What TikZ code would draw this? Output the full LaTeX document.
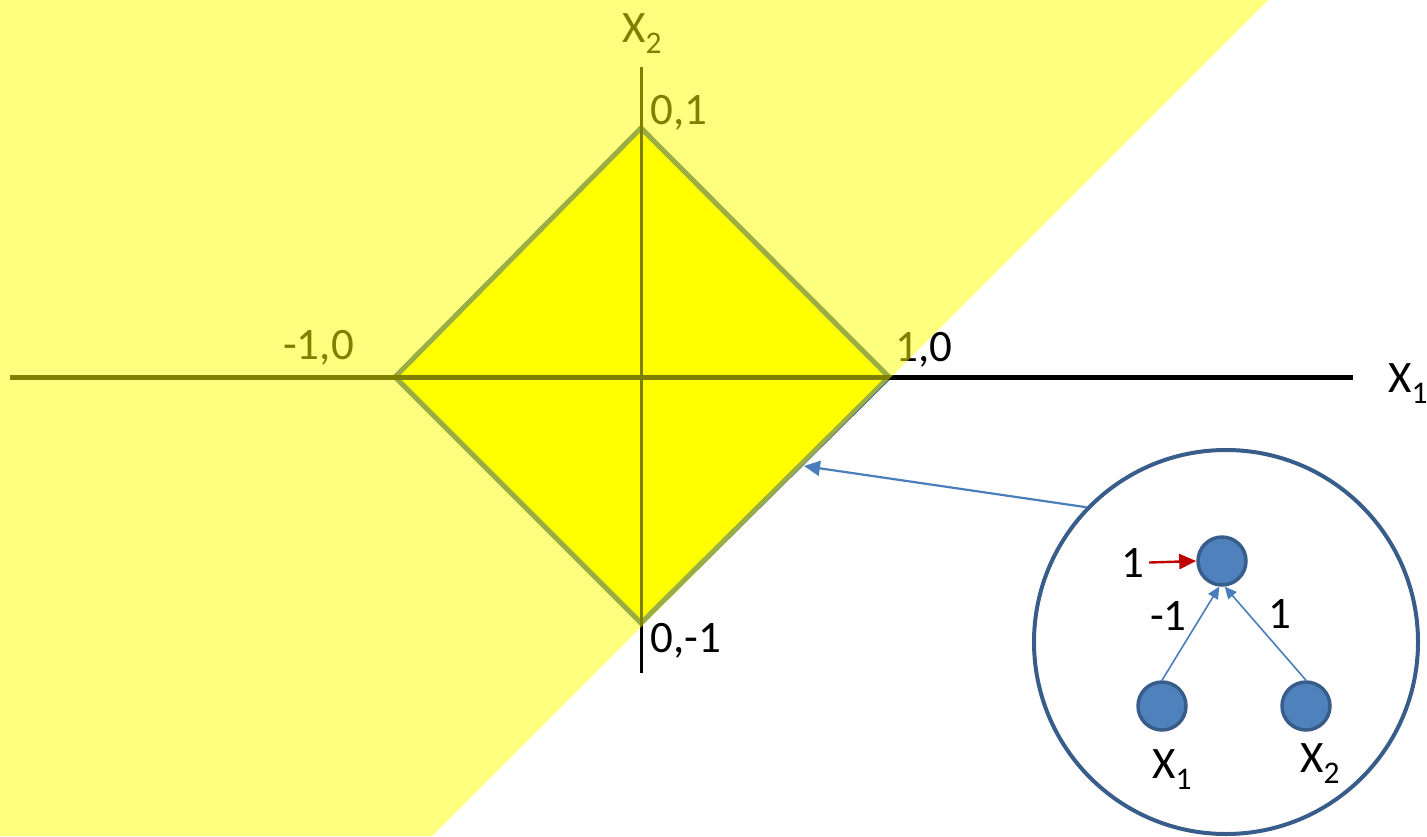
\documentclass[tikz,border=0pt]{standalone}
\usepackage{fontspec}
\setmainfont{Carlito}
\usetikzlibrary{arrows.meta}
\definecolor{dborder}{HTML}{385D8A}
\definecolor{nfill}{HTML}{4F81BD}
\definecolor{lineblue}{HTML}{4A7EBB}
\definecolor{darkred}{HTML}{C00000}
\definecolor{yel}{RGB}{255,255,0}
\begin{document}
\begin{tikzpicture}[x=1pt,y=-1pt,
  every node/.style={inner sep=0pt,font=\fontsize{45}{54}\selectfont},
  lbl/.style={anchor=base west},
  axis/.style={black,line width=#1},
  neuron/.style={circle,draw=dborder,fill=nfill,line width=3.5pt,minimum size=48pt},
  conn/.style={lineblue,line width=1.6pt,-{Triangle[length=12pt,width=11pt]}},
  biasarrow/.style={darkred,line width=2.4pt,-{Triangle[length=17pt,width=15pt]}}]
\useasboundingbox (0,0) rectangle (1427,836);
% diamond
\coordinate (dt) at (641,128);
\coordinate (dl) at (395,377);
\coordinate (dr) at (889,377);
\coordinate (db) at (641,623);
\fill[yel] (dt) -- (dr) -- (db) -- (dl) -- cycle;
\draw[dborder,line width=5pt,line join=miter] (dt) -- (dr) -- (db) -- (dl) -- cycle;
% axes
\coordinate (xa) at (10,377);
\coordinate (xb) at (1353,377);
\coordinate (ya) at (641,67);
\coordinate (yb) at (641,673);
\draw[axis=5pt] (xa) -- (xb);
\draw[axis=3pt] (ya) -- (yb);
% labels
\node[lbl] (lx2) at (622,42) {X\textsubscript{2}};
\node[lbl] (l01) at (650,124) {0,1};
\node[lbl] (lm10) at (283,359) {-1,0};
\node[lbl] (l10) at (895,361) {1,0};
\node[lbl] (l0m1) at (650,652) {0,-1};
\node[lbl] (lx1) at (1388,392) {X\textsubscript{1}};
% half-plane overlay
\fill[yel,opacity=0.5] (0,0) -- (1268,0) -- (432,836) -- (0,836) -- cycle;
% inset
\node[circle,draw=dborder,line width=4pt,minimum size=384pt] (inset) at (1226,642) {};
\coordinate (edgept) at (804,466);
\draw[lineblue,line width=2.2pt,-{Triangle[length=16pt,width=15pt]}] (inset.136) -- (edgept);
\node[neuron] (top) at (1222,561) {};
\node[neuron] (x1) at (1162,706) {};
\node[neuron] (x2) at (1306,706) {};
\draw[conn] (x1.north) -- (top.-96);
\draw[conn] (x2.north) -- (top.-84);
\node[lbl] (bias) at (1121,577) {1};
\draw[biasarrow] ([xshift=5pt]bias.east) -- (top.west);
\node[lbl] (w1) at (1150,630) {-1};
\node[lbl] (w2) at (1268,628) {1};
\node[lbl] (nx1) at (1152,778) {X\textsubscript{1}};
\node[lbl] (nx2) at (1300,772) {X\textsubscript{2}};
\end{tikzpicture}
\end{document}
